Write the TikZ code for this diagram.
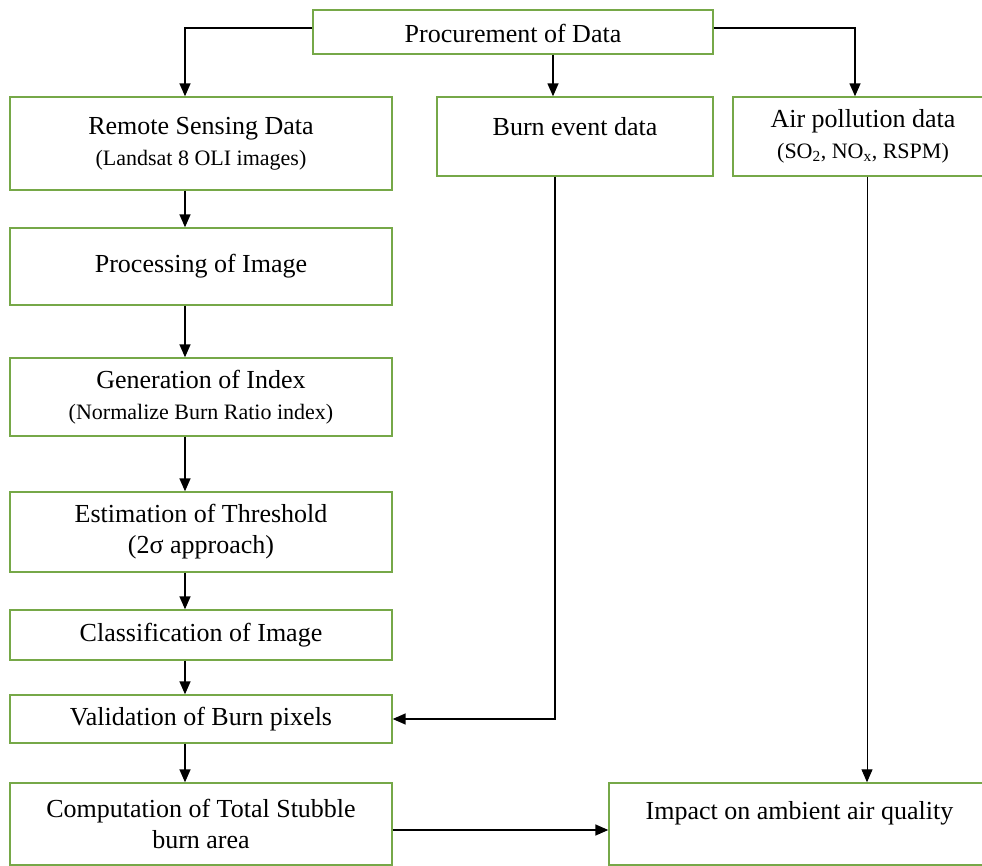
\documentclass[tikz,border=0pt]{standalone}
\usepackage{fontspec}
\setmainfont{Liberation Serif}
\usetikzlibrary{arrows.meta}
\definecolor{boxgreen}{RGB}{118,168,72}
\newcommand{\minorline}[1]{{\fontsize{22}{26}\selectfont #1}}
\tikzset{
  box/.style={draw=boxgreen, line width=1.4pt, rectangle, align=center,
    inner sep=0pt, font=\fontsize{26}{31}\selectfont},
  link/.style={line width=1.5pt, -{Triangle[length=13pt,width=11pt]}}
}
\begin{document}
\begin{tikzpicture}[x=1pt,y=-1pt]
      \useasboundingbox (0,0) rectangle (982,866);
      % top row
      \node[box, minimum width=400, minimum height=44, text height=22pt] (proc) at (513,32) {Procurement of Data};
      \node[box, minimum width=382, minimum height=93] (remote) at (201,143.5)
        {Remote Sensing Data\\ \minorline{(Landsat 8 OLI images)}};
      \node[box, minimum width=276, minimum height=79, text depth=20pt] (burn) at (575,136.5) {Burn event data};
      \node[box, minimum width=260, minimum height=79] (air) at (863,136.5)
        {Air pollution data\\ \minorline{(SO\textsubscript{2}, NO\textsubscript{x}, RSPM)}};
      % left column
      \node[box, minimum width=382, minimum height=77] (procimg) at (201,266.5) {Processing of Image};
      \node[box, minimum width=382, minimum height=78] (genidx) at (201,397)
        {Generation of Index\\ \minorline{(Normalize Burn Ratio index)}};
      \node[box, minimum width=382, minimum height=80] (thresh) at (201,532)
        {Estimation of Threshold\\ (2σ approach)};
      \node[box, minimum width=382, minimum height=50] (classify) at (201,635) {Classification of Image};
      \node[box, minimum width=382, minimum height=48] (valid) at (201,719) {Validation of Burn pixels};
      \node[box, minimum width=382, minimum height=82] (comp) at (201,824)
        {Computation of Total Stubble\\ burn area};
      \node[box, minimum width=381, minimum height=82, text depth=28pt] (impact) at (799.5,824)
        {Impact on ambient air quality};
      \begin{scope}[link]
        \draw ([yshift=4pt]proc.west) -| ([xshift=-16pt]remote.north);
        \draw ([xshift=40pt]proc.south) -- ([xshift=-22pt]burn.north);
        \draw ([yshift=4pt]proc.east) -| ([xshift=-8pt]air.north);
        \draw ([xshift=-16pt]remote.south) -- ([xshift=-16pt]procimg.north);
        \draw ([xshift=-16pt]procimg.south) -- ([xshift=-16pt]genidx.north);
        \draw ([xshift=-16pt]genidx.south) -- ([xshift=-16pt]thresh.north);
        \draw ([xshift=-16pt]thresh.south) -- ([xshift=-16pt]classify.north);
        \draw ([xshift=-16pt]classify.south) -- ([xshift=-16pt]valid.north);
        \draw ([xshift=-16pt]valid.south) -- ([xshift=-16pt]comp.north);
        \draw ([xshift=-20pt]burn.south) |- (valid.east);
        \draw[line width=1pt] ([xshift=4pt]air.south) -- ([xshift=67.5pt]impact.north);
        \draw ([yshift=-6pt]comp.east) -- ([yshift=-6pt]impact.west);
      \end{scope}
    \end{tikzpicture}
\end{document}
